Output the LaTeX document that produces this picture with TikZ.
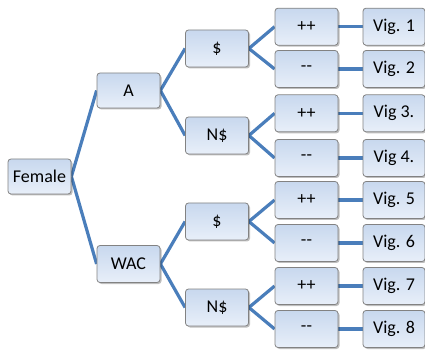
\documentclass[tikz,border=0pt]{standalone}
\usepackage{fontspec}
\setmainfont{Carlito}
\usetikzlibrary{shadows,backgrounds}
\definecolor{linkblue}{RGB}{74,126,187}
\definecolor{boxtop}{RGB}{200,216,238}
\definecolor{boxbot}{RGB}{232,239,249}
\definecolor{boxline}{RGB}{130,130,130}
\tikzset{
  box/.style={draw=boxline, line width=0.8pt, rounded corners=3pt,
    top color=boxtop, bottom color=boxbot,
    minimum width=63pt, minimum height=37pt, inner sep=0pt,
    font=\fontsize{18}{20}\selectfont,
    drop shadow={shadow xshift=1.5pt, shadow yshift=-1.5pt, fill=black, opacity=0.25}},
  link/.style={draw=linkblue, line width=3.2pt}
}
\begin{document}
\begin{tikzpicture}[x=1pt, y=-1pt]
\useasboundingbox (0,0) rectangle (425,352);
\node[box, minimum height=35pt] (female) at (39.5,176.5) {Female};
\node[box, minimum height=35pt] (a) at (128.5,90.5) {A};
\node[box] (wac) at (128.5,264) {WAC};
\node[box] (s1) at (217,48.5) {\$};
\node[box] (n1) at (217,135.5) {N\$};
\node[box] (s2) at (217,221.5) {\$};
\node[box] (n2) at (217,307.5) {N\$};
\node[box] (l1) at (306.5,26.7) {++};
\node[box] (l2) at (306.5,69) {{-}{-}};
\node[box] (l3) at (306.5,113.3) {++};
\node[box] (l4) at (306.5,158) {{-}{-}};
\node[box] (l5) at (306.5,200) {++};
\node[box] (l6) at (306.5,243) {{-}{-}};
\node[box] (l7) at (306.5,286) {++};
\node[box] (l8) at (306.5,329) {{-}{-}};
\node[box, minimum width=62pt] (v1) at (394,26.7) {Vig. 1};
\node[box, minimum width=62pt] (v2) at (394,69) {Vig. 2};
\node[box, minimum width=62pt] (v3) at (394,113.3) {Vig 3.};
\node[box, minimum width=62pt] (v4) at (394,158) {Vig 4.};
\node[box, minimum width=62pt] (v5) at (394,200) {Vig. 5};
\node[box, minimum width=62pt] (v6) at (394,243) {Vig. 6};
\node[box, minimum width=62pt] (v7) at (394,286) {Vig. 7};
\node[box, minimum width=62pt] (v8) at (394,329) {Vig. 8};
\begin{scope}[on background layer]
\draw[link] (female.east) -- (a.west);
\draw[link] (female.east) -- (wac.west);
\draw[link] (a.east) -- (s1.west);
\draw[link] (a.east) -- (n1.west);
\draw[link] (wac.east) -- (s2.west);
\draw[link] (wac.east) -- (n2.west);
\draw[link] (s1.east) -- (l1.west);
\draw[link] (s1.east) -- (l2.west);
\draw[link] (n1.east) -- (l3.west);
\draw[link] (n1.east) -- (l4.west);
\draw[link] (s2.east) -- (l5.west);
\draw[link] (s2.east) -- (l6.west);
\draw[link] (n2.east) -- (l7.west);
\draw[link] (n2.east) -- (l8.west);
\foreach \i in {1,...,8} {\draw[link] (l\i.east) -- (v\i.west);}
\end{scope}
\end{tikzpicture}
\end{document}
